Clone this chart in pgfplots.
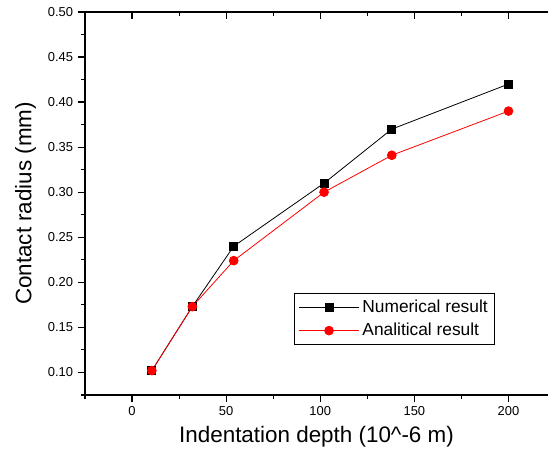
\documentclass[border=0pt]{standalone}
\usepackage{fontspec}
\setmainfont{Liberation Sans}
\usepackage{pgfplots}
\pgfplotsset{compat=1.18}

\pgfplotstableread{
x y
10.5 0.102
32 0.173
54 0.240
102 0.310
138 0.370
200 0.420
}\numerical

\pgfplotstableread{
x y
10.5 0.102
32 0.173
54 0.224
102 0.300
138 0.341
200 0.390
}\analytical

\begin{document}
\begin{tikzpicture}
\pgfplotsset{
  common/.style={
    scale only axis, width=347pt, height=287pt,
    xmin=-25, xmax=221, ymin=0.075, ymax=0.5,
    xtick={0,50,...,200}, minor xtick={-25,25,...,225},
    ytick={0.10,0.15,...,0.51}, minor ytick={0.075,0.125,...,0.5},
    major tick length=5.5pt, minor tick length=3pt,
    every tick/.style={black, line width=0.9pt},
    every minor tick/.style={black, line width=0.9pt},
    axis line style={line width=1.1pt},
  }
}
\begin{axis}[common, name=main,
  axis x line*=bottom, axis y line*=left,
  tick align=outside,
  ticklabel style={font=\fontsize{9.7pt}{11pt}\selectfont},
  /pgf/number format/assume math mode=true,
  yticklabel style={/pgf/number format/.cd, fixed, fixed zerofill, precision=2},
  xlabel={Indentation depth (10\^{}-6 m)},
  ylabel={Contact radius (mm)},
  label style={font=\fontsize{16.8pt}{19pt}\selectfont},
  xlabel style={yshift=-1pt},
  ylabel style={yshift=2pt},
  legend style={at={(0.451,0.266)}, anchor=north west, draw=black, line width=0.6pt,
    font=\fontsize{13pt}{15pt}\selectfont, inner xsep=3pt, inner ysep=3pt, row sep=2.5pt},
  legend cell align=left,
  legend image code/.code={
    \path (0cm,0cm) -- (1.6cm,0cm);
    \draw[#1] (0.2cm,0cm) -- (1.4cm,0cm);
    \draw[#1, mark repeat=2, mark phase=2] plot coordinates {(0.2cm,0cm) (0.8cm,0cm) (1.4cm,0cm)};
  },
]
\addplot[black, line width=0.6pt, mark=square*, mark size=3pt, mark options={solid, fill=black}]
  table[x=x, y=y] {\numerical};
\addlegendentry{Numerical result}
\addplot[red, line width=0.6pt, mark=*, mark size=3.3pt, mark options={solid, fill=red}]
  table[x=x, y=y] {\analytical};
\addlegendentry{Analitical result}
\end{axis}
\begin{axis}[common, at={(main.south west)}, anchor=south west,
  axis x line*=top, axis y line=none, tick align=inside,
  xticklabels={}, yticklabels={}]
\end{axis}
\pgfresetboundingbox
\path[use as bounding box] ([xshift=-63.75pt, yshift=-46.5pt]main.south west)
  rectangle ([yshift=9pt]main.north east);
\end{tikzpicture}
\end{document}
